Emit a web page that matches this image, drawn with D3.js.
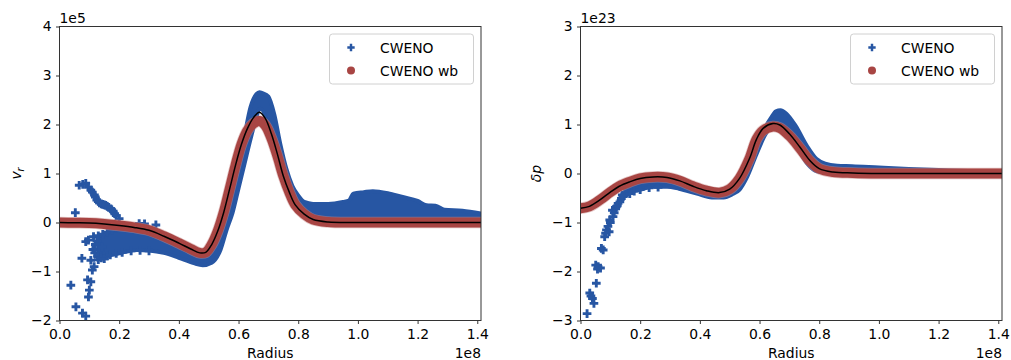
<!DOCTYPE html>
<html>
<head>
<meta charset="utf-8">
<script src="https://cdn.jsdelivr.net/npm/d3@7"></script>
<style>
  body { margin: 0; background: #fff; }
  text { font-family: "DejaVu Sans", sans-serif; }
</style>
</head>
<body>
<svg id="chart" width="1011" height="360"></svg>
<script>
// radius is in units of 1e8
const radiusTicks = [0, 0.2, 0.4, 0.6, 0.8, 1.0, 1.2, 1.4];
const vrTicks = [-2, -1, 0, 1, 2, 3, 4];
const dpTicks = [-3, -2, -1, 0, 1, 2, 3];
const seriesNames = ["CWENO", "CWENO wb"];

// ---- left panel: v_r (1e5) ----
const vrExactR = [0, 0.05, 0.1, 0.15, 0.2, 0.25, 0.3, 0.35, 0.4, 0.44, 0.47, 0.49, 0.51, 0.53, 0.55, 0.57, 0.59, 0.61, 0.63, 0.65, 0.67, 0.69, 0.71, 0.73, 0.75, 0.77, 0.79, 0.82, 0.85, 0.9, 1.0, 1.2, 1.413];
const vrExact = [0.0, -0.005, -0.01, -0.03, -0.06, -0.1, -0.16, -0.28, -0.42, -0.54, -0.62, -0.61, -0.45, -0.18, 0.2, 0.68, 1.17, 1.6, 1.92, 2.14, 2.25, 2.12, 1.81, 1.4, 0.95, 0.62, 0.36, 0.17, 0.06, 0.01, 0, 0, 0];
const vrWb = [0.0, -0.005, -0.01, -0.03, -0.06, -0.1, -0.16, -0.28, -0.42, -0.54, -0.62, -0.61, -0.45, -0.18, 0.2, 0.68, 1.17, 1.6, 1.88, 2.02, 2.07, 1.98, 1.72, 1.36, 0.95, 0.62, 0.36, 0.17, 0.06, 0.01, 0, 0, 0];

const vrBandR = [0.13, 0.15, 0.17, 0.2, 0.22, 0.26, 0.3, 0.35, 0.4, 0.45, 0.48, 0.51, 0.54, 0.56, 0.58, 0.60, 0.62, 0.64, 0.66, 0.67, 0.68, 0.70, 0.72, 0.74, 0.76, 0.78, 0.80, 0.82, 0.85, 0.90, 0.95, 0.97, 0.985, 1.02, 1.05, 1.10, 1.15, 1.20, 1.23, 1.26, 1.29, 1.35, 1.413];
const vrBandTop = [-0.29, -0.24, -0.19, -0.14, -0.1, -0.05, -0.1, -0.28, -0.42, -0.56, -0.62, -0.5, -0.1, 0.2, 0.6, 1.1, 1.76, 2.35, 2.62, 2.66, 2.64, 2.57, 2.2, 1.6, 1.1, 0.75, 0.55, 0.42, 0.38, 0.38, 0.42, 0.45, 0.59, 0.62, 0.64, 0.6, 0.52, 0.44, 0.35, 0.34, 0.26, 0.24, 0.18];
const vrBandBot = [-0.73, -0.70, -0.67, -0.63, -0.6, -0.56, -0.57, -0.62, -0.72, -0.83, -0.87, -0.82, -0.55, -0.15, 0.2, 0.7, 1.2, 1.7, 2.15, 2.32, 2.3, 1.95, 1.8, 1.4, 0.95, 0.62, 0.36, 0.17, 0.06, 0.02, 0.02, 0.02, 0.02, 0.02, 0.02, 0.02, 0.02, 0.02, 0.02, 0.02, 0.02, 0.02, 0.02];

const vrScatR = [0.038, 0.055, 0.077, 0.088, 0.075, 0.094, 0.105, 0.1, 0.097, 0.11, 0.116, 0.105, 0.088, 0.097, 0.114, 0.131, 0.136, 0.142, 0.12, 0.125, 0.112, 0.118, 0.128,
  0.053, 0.066, 0.078, 0.088, 0.097, 0.105, 0.11, 0.117, 0.12, 0.125, 0.13, 0.134, 0.14, 0.145, 0.15, 0.155, 0.16, 0.165, 0.172, 0.175, 0.18, 0.185, 0.19, 0.2,
  0.13, 0.14, 0.15, 0.16, 0.17, 0.19, 0.21, 0.24, 0.27, 0.3, 0.13, 0.145, 0.16, 0.175, 0.19, 0.267, 0.285, 0.323];
const vrScat = [-1.28, -1.72, -1.85, -1.91, -0.73, -1.17, -1.21, -1.38, -1.52, -0.97, -0.9, -0.77, -0.39, -0.36, -0.29, -0.63, -0.56, -0.5, -0.45, -0.38, -0.55, -0.62, -0.7,
  0.2, 0.76, 0.78, 0.8, 0.72, 0.66, 0.62, 0.56, 0.52, 0.46, 0.43, 0.4, 0.38, 0.37, 0.36, 0.35, 0.33, 0.31, 0.28, 0.26, 0.23, 0.18, 0.14, 0.08,
  -0.76, -0.72, -0.74, -0.68, -0.66, -0.63, -0.61, -0.58, -0.57, -0.58, -0.27, -0.24, -0.2, -0.16, -0.12, -0.02, -0.03, -0.05];

// ---- right panel: delta p (1e23) ----
const dpExactR = [0, 0.03, 0.065, 0.1, 0.13, 0.165, 0.2, 0.243, 0.29, 0.333, 0.377, 0.422, 0.466, 0.5, 0.533, 0.566, 0.59, 0.612, 0.645, 0.668, 0.7, 0.735, 0.768, 0.8, 0.846, 0.913, 1.0, 1.2, 1.413];
const dpExact = [-0.71, -0.67, -0.54, -0.38, -0.26, -0.17, -0.1, -0.07, -0.08, -0.15, -0.26, -0.35, -0.39, -0.32, -0.1, 0.3, 0.7, 0.92, 1.02, 0.99, 0.81, 0.54, 0.27, 0.1, 0.03, 0.01, 0, 0, 0];
const dpWb = [-0.71, -0.67, -0.54, -0.38, -0.26, -0.17, -0.1, -0.07, -0.08, -0.15, -0.26, -0.35, -0.39, -0.32, -0.1, 0.3, 0.7, 0.88, 0.96, 0.93, 0.77, 0.52, 0.26, 0.1, 0.03, 0.01, 0, 0, 0];

const dpBandR = [0.155, 0.17, 0.2, 0.24, 0.29, 0.33, 0.39, 0.44, 0.48, 0.51, 0.533, 0.556, 0.59, 0.62, 0.64, 0.655, 0.67, 0.69, 0.72, 0.76, 0.79, 0.82, 0.86, 0.91, 1.0, 1.1, 1.2, 1.3, 1.413];
const dpBandTop = [-0.32, -0.26, -0.2, -0.17, -0.18, -0.25, -0.38, -0.46, -0.46, -0.37, -0.2, 0.08, 0.5, 0.95, 1.15, 1.27, 1.29, 1.22, 0.98, 0.55, 0.3, 0.2, 0.16, 0.15, 0.12, 0.09, 0.07, 0.05, 0.03];
const dpBandBot = [-0.44, -0.38, -0.33, -0.27, -0.27, -0.31, -0.41, -0.49, -0.49, -0.42, -0.33, -0.1, 0.4, 0.8, 0.95, 0.98, 0.98, 0.85, 0.6, 0.2, 0.05, 0.02, 0.01, 0, 0, 0, 0, 0, 0];

const dpScatR = [0.022, 0.031, 0.04, 0.045, 0.053, 0.051, 0.059, 0.067, 0.07, 0.076, 0.081, 0.087, 0.096, 0.098, 0.109, 0.107, 0.12, 0.126, 0.137, 0.148, 0.159,
  0.1, 0.118, 0.132, 0.143, 0.153, 0.035, 0.057, 0.084, 0.092, 0.113, 0.123, 0.14, 0.165, 0.18, 0.2, 0.23, 0.26];
const dpScat = [-2.86, -2.44, -2.55, -2.65, -2.24, -1.87, -1.9, -1.93, -1.53, -1.56, -1.29, -1.15, -1.19, -0.95, -0.88, -0.75, -0.68, -0.61, -0.51, -0.41, -0.34,
  -1.0, -0.72, -0.58, -0.47, -0.4, -2.5, -1.95, -1.22, -1.08, -0.8, -0.66, -0.44, -0.41, -0.36, -0.33, -0.29, -0.28];

const blue = "#2756a3";
const red = "#a84543";
const svg = d3.select("#chart");

function drawPanel(p) {
  const g = svg.append("g").attr("transform", `translate(${p.left},${p.top})`);
  const x = d3.scaleLinear().domain([0, 1.4125]).range([0, p.w]);
  const y = d3.scaleLinear().domain(p.yDomain).range([p.h, 0]);

  g.append("clipPath").attr("id", p.id + "clip")
    .append("rect").attr("width", p.w).attr("height", p.h);
  const plot = g.append("g").attr("clip-path", `url(#${p.id}clip)`);

  // CWENO: dense cloud of markers drawn as a band plus the loose points
  const band = d3.area()
    .curve(d3.curveMonotoneX)
    .x(i => x(p.bandR[i]))
    .y0(i => y(p.bandBot[i]))
    .y1(i => y(p.bandTop[i]));
  plot.append("path")
    .datum(d3.range(p.bandR.length))
    .attr("d", band)
    .attr("fill", blue)
    .attr("stroke", blue)
    .attr("stroke-width", 4)
    .attr("stroke-linejoin", "round");

  const cross = d3.symbol(d3.symbolCross, 42);
  plot.selectAll(".pt").data(d3.range(p.scatR.length)).join("path")
    .attr("transform", i => `translate(${x(p.scatR[i])},${y(p.scat[i])})`)
    .attr("d", cross)
    .attr("fill", blue);

  // CWENO wb: circles packed along the solution
  const line = (vals) => d3.line()
    .curve(d3.curveCatmullRom)
    .x(i => x(p.exactR[i]))
    .y(i => y(vals[i]));
  const idx = d3.range(p.exactR.length);
  plot.append("path").datum(idx).attr("d", line(p.wb))
    .attr("fill", "none").attr("stroke", "#c98a8a").attr("stroke-opacity", 0.5)
    .attr("stroke-width", 11.5).attr("stroke-linecap", "round").attr("stroke-linejoin", "round");
  plot.append("path").datum(idx).attr("d", line(p.wb))
    .attr("fill", "none").attr("stroke", red)
    .attr("stroke-width", 10).attr("stroke-linecap", "round").attr("stroke-linejoin", "round");

  // exact solution
  plot.append("path").datum(idx).attr("d", line(p.exact))
    .attr("fill", "none").attr("stroke", "#000").attr("stroke-width", 1.5);

  // axes
  const xa = g.append("g").attr("transform", `translate(0,${p.h})`)
    .call(d3.axisBottom(x).tickValues(radiusTicks).tickFormat(d3.format(".1f"))
      .tickSize(3.5).tickPadding(5.4));
  const ya = g.append("g")
    .call(d3.axisLeft(y).tickValues(p.yTicks).tickFormat(d3.format("d"))
      .tickSize(3.5).tickPadding(4.5));
  [xa, ya].forEach(a => {
    a.select(".domain").remove();
    a.selectAll("line").attr("stroke", "#333");
    a.selectAll("text").attr("font-size", 13.9).attr("fill", "#000")
      .attr("font-family", '"DejaVu Sans", sans-serif');
  });

  g.append("rect").attr("width", p.w).attr("height", p.h)
    .attr("fill", "none").attr("stroke", "#333").attr("stroke-width", 1);

  // offset texts and labels
  g.append("text").attr("x", 0).attr("y", -4).attr("font-size", 13.9).text(p.yOffset);
  g.append("text").attr("x", p.w).attr("y", 331).attr("text-anchor", "end")
    .attr("font-size", 13.9).text("1e8");
  g.append("text").attr("x", p.w / 2).attr("y", 331.5).attr("text-anchor", "middle")
    .attr("font-size", 13.9).text("Radius");

  const yl = g.append("text")
    .attr("transform", `translate(${p.ylabX},${p.h / 2}) rotate(-90)`)
    .attr("text-anchor", "middle").attr("font-size", 13.9);
  p.ylabel(yl);

  // legend
  const lg = g.append("g").attr("transform", `translate(${p.w - 151.5},7.5)`);
  lg.append("rect").attr("width", 144).attr("height", 50).attr("rx", 3)
    .attr("fill", "#fff").attr("fill-opacity", 0.8)
    .attr("stroke", "#d0d0d0");
  lg.append("path").attr("transform", "translate(21.5,13.5)")
    .attr("d", d3.symbol(d3.symbolCross, 30)).attr("fill", blue);
  lg.append("circle").attr("cx", 21.5).attr("cy", 36.5).attr("r", 4).attr("fill", red);
  seriesNames.forEach((s, i) => {
    lg.append("text").attr("x", 50.5).attr("y", 18.5 + i * 23)
      .attr("font-size", 13.9).text(s);
  });
}

drawPanel({
  id: "vr", left: 59.5, top: 26.5, w: 421.5, h: 294,
  yDomain: [-2, 4], yTicks: vrTicks, yOffset: "1e5", ylabX: -38.5,
  exactR: vrExactR, exact: vrExact, wb: vrWb,
  bandR: vrBandR, bandTop: vrBandTop, bandBot: vrBandBot,
  scatR: vrScatR, scat: vrScat,
  ylabel: t => {
    t.append("tspan").attr("font-style", "italic").text("v");
    t.append("tspan").attr("font-style", "italic").attr("font-size", 9.7)
      .attr("baseline-shift", "-25%").text("r");
  }
});

drawPanel({
  id: "dp", left: 580.5, top: 26.5, w: 421.5, h: 294,
  yDomain: [-3, 3], yTicks: dpTicks, yOffset: "1e23", ylabX: -40,
  exactR: dpExactR, exact: dpExact, wb: dpWb,
  bandR: dpBandR, bandTop: dpBandTop, bandBot: dpBandBot,
  scatR: dpScatR, scat: dpScat,
  ylabel: t => {
    t.append("tspan").attr("font-style", "italic").text("δp");
  }
});
</script>
</body>
</html>
